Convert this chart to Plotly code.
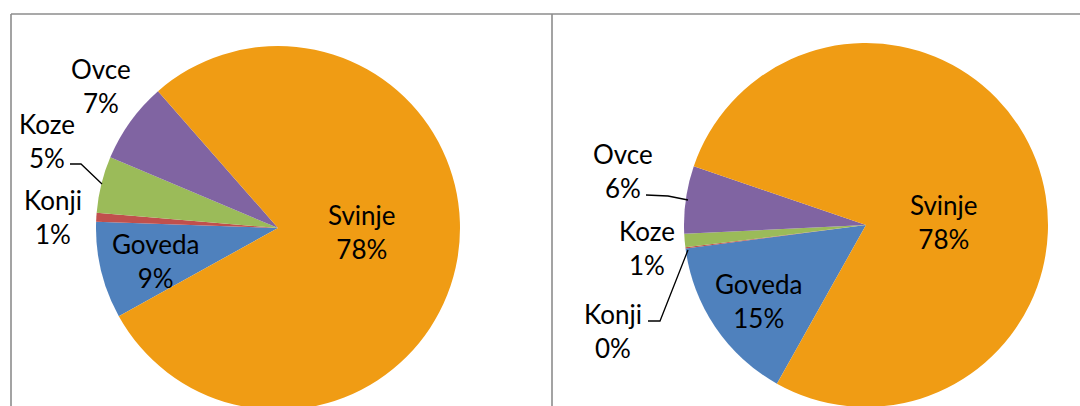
import plotly.graph_objects as go

# ---- data ----
categories = ["Goveda", "Konji", "Koze", "Ovce", "Svinje"]
left_values = [8.6, 0.8, 5.0, 7.2, 78.4]
right_values = [14.8, 0.1, 1.2, 6.0, 77.9]
colors = ["#4F81BD", "#C0504D", "#9BBB59", "#8064A2", "#F09C14"]

# ---- layout helpers (pixel -> paper) ----
W, H = 1080, 410
def px(x):
    return x / W
def py(y):
    return 1 - y / H

FONT = dict(family="Lato, 'Open Sans', sans-serif", size=26, color="#000000")

fig = go.Figure()

pies = [
    dict(values=left_values, rotation=241, dx=(96, 460), dy=(410, 46)),
    dict(values=right_values, rotation=209.3, dx=(684, 1048), dy=(407, 43)),
]
for p in pies:
    fig.add_trace(go.Pie(
        labels=categories, values=p["values"], sort=False,
        direction="clockwise", rotation=p["rotation"],
        marker=dict(colors=colors, line=dict(width=0)),
        textinfo="none", hoverinfo="label+percent", showlegend=False,
        domain=dict(x=[px(p["dx"][0]), px(p["dx"][1])],
                    y=[py(p["dy"][0]), py(p["dy"][1])]),
    ))

# label positions (pixel centres of the two-line label blocks)
label_pos = [
    {"Goveda": (155, 261), "Konji": (53, 217), "Koze": (47, 141),
     "Ovce": (101, 86), "Svinje": (362, 232)},
    {"Goveda": (758, 301), "Konji": (613, 331), "Koze": (647, 248),
     "Ovce": (623, 171), "Svinje": (944, 222)},
]
annotations = []
for vals, pos in zip([left_values, right_values], label_pos):
    total = sum(vals)
    for cat, v in zip(categories, vals):
        x, y = pos[cat]
        annotations.append(dict(
            x=px(x), y=py(y), xref="paper", yref="paper",
            text=f"{cat}<br>{round(v / total * 100)}%",
            showarrow=False, xanchor="center", yanchor="middle",
            font=FONT, align="center"))

def path(points):
    s = "M " + " L ".join(f"{px(a)},{py(b)}" for a, b in points)
    return s

shapes = []
# panel borders
border = dict(color="#8C8C8C", width=1.6)
shapes.append(dict(type="line", xref="paper", yref="paper",
                   x0=px(11), y0=py(14), x1=px(1080), y1=py(14), line=border))
shapes.append(dict(type="line", xref="paper", yref="paper",
                   x0=px(11), y0=py(14), x1=px(11), y1=py(410), line=border))
shapes.append(dict(type="line", xref="paper", yref="paper",
                   x0=px(552), y0=py(14), x1=px(552), y1=py(410), line=border))
# leader lines
leader = dict(color="#000000", width=1.3)
for pts in [
    [(70, 164), (81, 164), (102, 184)],
    [(646, 195), (668, 196), (688, 200)],
    [(648, 321), (660, 321), (688, 250)],
]:
    shapes.append(dict(type="path", xref="paper", yref="paper",
                       path=path(pts), line=leader))

fig.update_layout(
    width=W, height=H,
    margin=dict(l=0, r=0, t=0, b=0),
    paper_bgcolor="#FFFFFF", plot_bgcolor="#FFFFFF",
    annotations=annotations, shapes=shapes,
    showlegend=False,
)

fig.write_html(
    "out.html",
    config={"displayModeBar": False},
    post_script="document.body.style.margin='0px';"
                "document.body.style.overflow='hidden';"
                "document.documentElement.style.overflow='hidden';",
)
